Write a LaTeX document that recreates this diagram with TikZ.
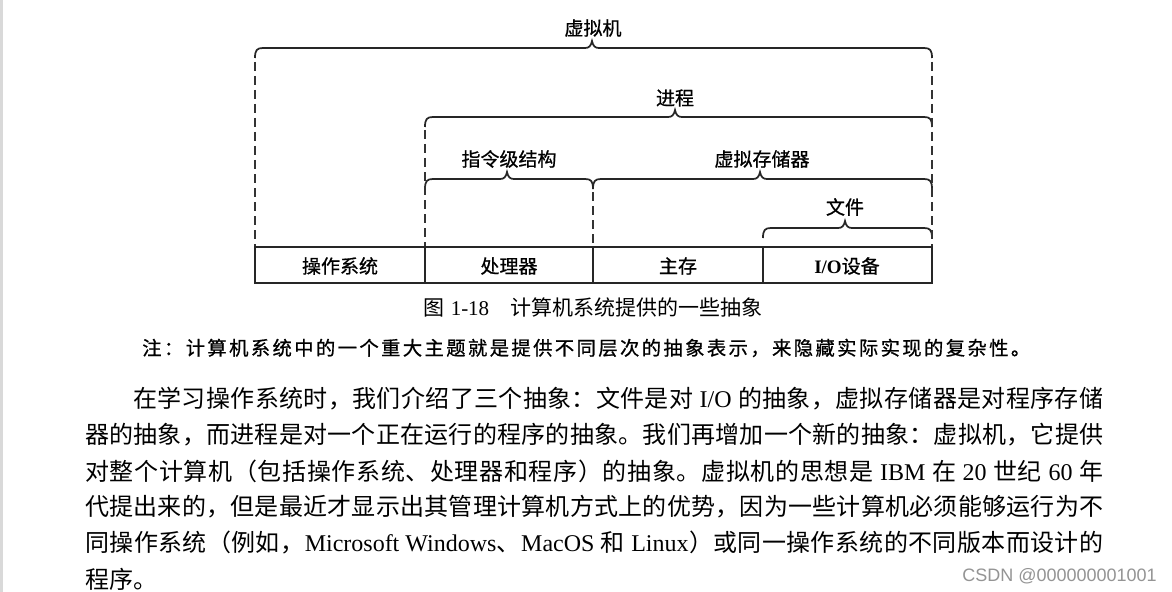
\documentclass[tikz,border=0pt]{standalone}
\usepackage{fontspec}
\setmainfont{Noto Sans CJK SC}
\newfontfamily\lat{Liberation Serif}
\newfontfamily\labf{Noto Sans CJK SC}[FakeBold=0.8]
\newfontfamily\wmf{Liberation Sans}
\newcommand\wsp{\hspace{4.5pt}}
\makeatletter
\newcommand\spreadbox[2]{\hbox to #1{\def\sprsep{\def\sprsep{\hskip 0pt plus 1fil\relax}}%
  \@tfor\spritem:=#2\do{\sprsep{\spritem}}}}
\makeatother
\newcommand\mybrace[4]{% x1, x2, tip, y
  \draw[bracestyle] ({#1},{#4+10}) .. controls ({#1},{#4+2}) and ({#1+2},{#4}) .. ({#1+8},{#4})
    -- ({#3-7},{#4}) .. controls ({#3-3},{#4}) and ({#3-1},{#4-2}) .. ({#3},{#4-7})
    .. controls ({#3+1},{#4-2}) and ({#3+3},{#4}) .. ({#3+7},{#4})
    -- ({#2-8},{#4}) .. controls ({#2-2},{#4}) and ({#2},{#4+2}) .. ({#2},{#4+10});}
\begin{document}
\begin{tikzpicture}[x=0.75pt,y=-0.75pt,
  bracestyle/.style={line width=1.3pt,color=black!85},
  dashline/.style={line width=1.1pt,color=black!80,dash pattern=on 6.5pt off 4pt},
  boxline/.style={line width=1.1pt,color=black!85},
  lab/.style={font=\labf\fontsize{14.25}{16}\selectfont,inner sep=0},
  para/.style={font=\fontsize{18}{20}\selectfont,inner sep=0,anchor=west},
]
\useasboundingbox (0,0) rectangle (1172,592);
\fill[white] (0,0) rectangle (1172,592);
\fill[black!15] (0,0) rectangle (3,592);

% braces
\mybrace{255}{932}{592}{48}
\mybrace{425}{932}{675}{117}
\mybrace{425}{593}{507}{179}
\mybrace{593}{932}{760}{179}
\mybrace{763}{932}{845}{228}

% dashed guides
\coordinate (d1a) at (255,62); \coordinate (d1b) at (255,247);
\coordinate (d2a) at (932,62); \coordinate (d2b) at (932,247);
\coordinate (d3a) at (425,130); \coordinate (d3b) at (425,247);
\coordinate (d4a) at (593,192); \coordinate (d4b) at (593,247);
\draw[dashline] (d1a) -- (d1b);
\draw[dashline] (d2a) -- (d2b);
\draw[dashline] (d3a) -- (d3b);
\draw[dashline] (d4a) -- (d4b);

% labels above braces
\node[lab] (vm) at (593,28) {虚拟机};
\node[lab] (proc) at (675,98) {进程};
\node[lab] (isa) at (509,159) {指令级结构};
\node[lab] (vmem) at (762,159) {虚拟存储器};
\node[lab] (file) at (845,207) {文件};

% bottom box
\draw[boxline] (255,247) rectangle (932,283);
\draw[boxline] (425,247) -- (425,283);
\draw[boxline] (593,247) -- (593,283);
\draw[boxline] (763,247) -- (763,283);
\node[lab] (os) at (340,266) {操作系统};
\node[lab] (cpu) at (509,266) {处理器};
\node[lab] (mem) at (678,266) {主存};
\node[lab] (io) at (847,266) {{\lat\bfseries I/O}设备};

% caption and note
\node[inner sep=0,font=\fontsize{15.75}{18}\selectfont] (cap) at (593,307) {图\wsp{\lat 1-18}\hspace{1em}计算机系统提供的一些抽象};
\node[inner sep=0,anchor=west,font=\labf\fontsize{14.5}{16}\selectfont] (note) at (142,348) {\spreadbox{666pt}{注：计算机系统中的一个重大主题就是提供不同层次的抽象表示，来隐藏实际实现的复杂性。}};

% paragraph
\node[para] (p1) at (133,399) {\spreadbox{727.5pt}{在学习操作系统时，我们介绍了三个抽象：文件是对{\lat\wsp I/O\wsp}的抽象，虚拟存储器是对程序存储}};
\node[para] (p2) at (85,435) {\spreadbox{763.5pt}{器的抽象，而进程是对一个正在运行的程序的抽象。我们再增加一个新的抽象：虚拟机，它提供}};
\node[para] (p3) at (85,471) {\spreadbox{763.5pt}{对整个计算机（包括操作系统、处理器和程序）的抽象。虚拟机的思想是{\lat\wsp IBM\wsp}在{\lat\wsp 20\wsp}世纪{\lat\wsp 60\wsp}年}};
\node[para] (p4) at (85,507) {\spreadbox{763.5pt}{代提出来的，但是最近才显示出其管理计算机方式上的优势，因为一些计算机必须能够运行为不}};
\node[para] (p5) at (85,543) {\spreadbox{763.5pt}{同操作系统（例如，{\lat Microsoft\wsp Windows}、{\lat MacOS\wsp}和{\lat\wsp Linux}）或同一操作系统的不同版本而设计的}};
\node[para] (p6) at (85,579) {程序。};

% watermark
\node[inner sep=0,anchor=east,font=\wmf\fontsize{13.5}{15}\selectfont,text=black!42] (wm) at (1157,576) {CSDN @000000001001};
\end{tikzpicture}
\end{document}
